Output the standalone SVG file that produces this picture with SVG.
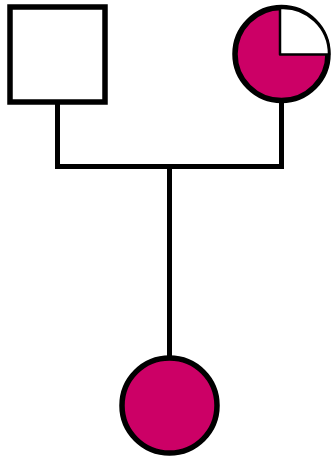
<svg xmlns="http://www.w3.org/2000/svg" width="333" height="459" viewBox="0 0 333 459">
<style>
.sym{stroke:#000;stroke-width:5.5;}
.aff{fill:#cc0066;}
.unaff{fill:#fff;}
.line{stroke:#000;stroke-width:5;fill:none;}
</style>
<rect width="333" height="459" fill="#fff"/>
<g id="connectors">
<path class="line" d="M57.5,102 V166.5 M281.5,101 V166.5 M55,166.5 H284 M169.5,166.5 V356"/>
</g>
<g id="father">
<rect class="sym unaff" x="10" y="7" width="95" height="95"/>
</g>
<g id="mother">
<circle class="sym aff" cx="281.5" cy="54" r="46.5"/>
<path d="M280,54.5 V8 A46,46 0 0 1 329,54.5 Z" fill="#fff" stroke="#000" stroke-width="2.5" stroke-linejoin="round"/>
</g>
<g id="child">
<circle class="sym aff" cx="169.5" cy="405.5" r="47.5"/>
</g>
</svg>
